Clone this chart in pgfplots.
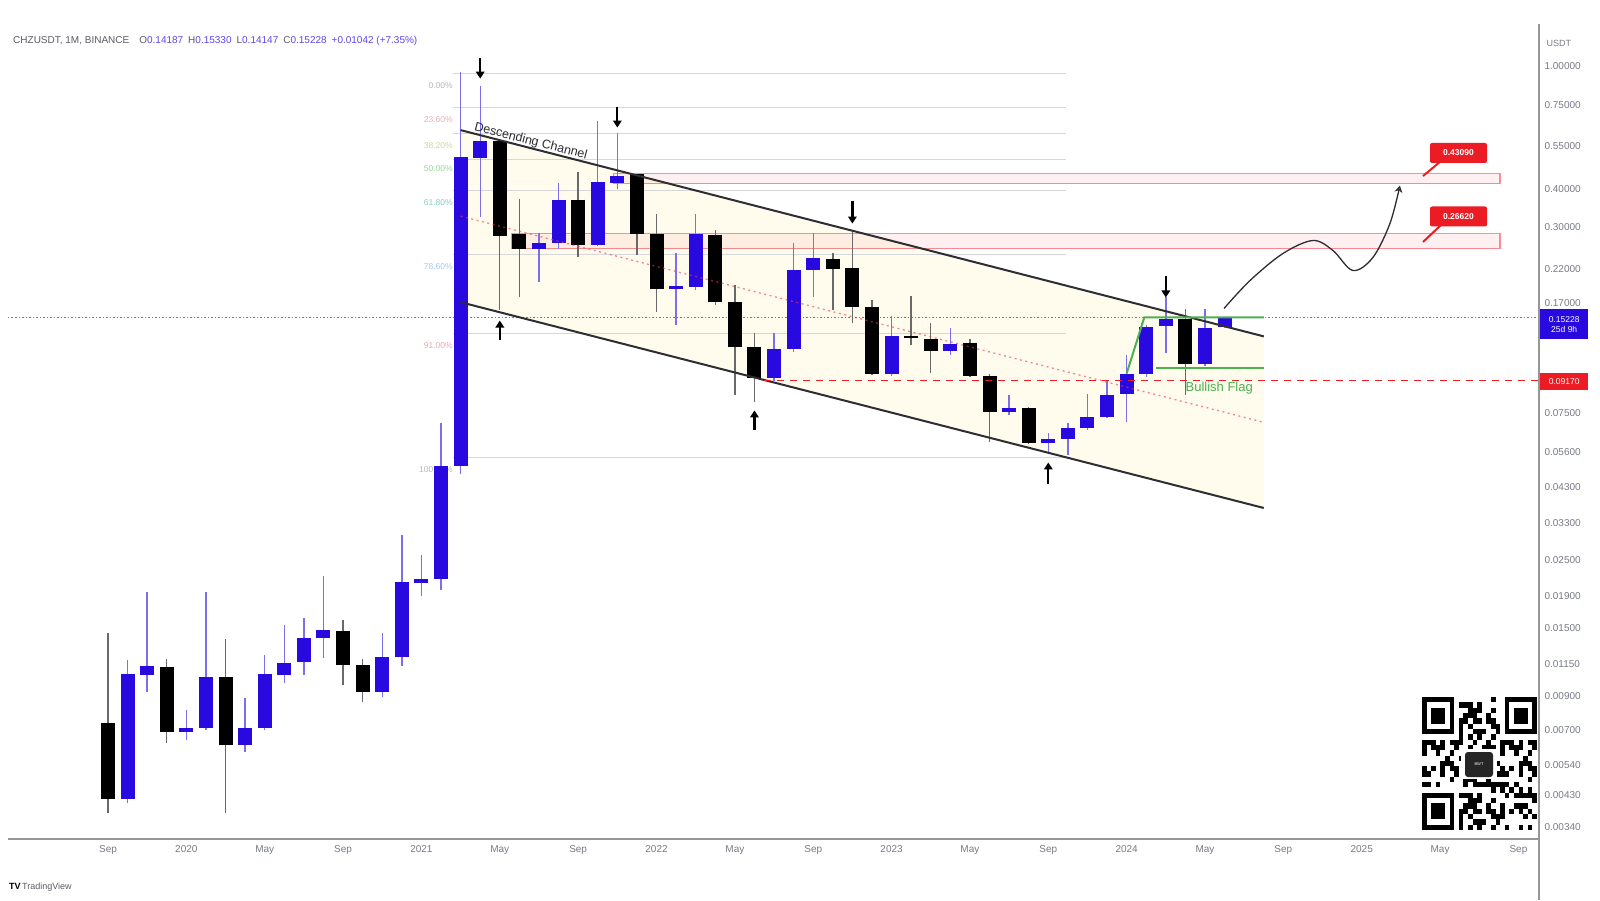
\documentclass[border=0pt]{standalone}
\usepackage{fontspec}
\setmainfont{Liberation Sans}
\usepackage{pgfplots}
\usepackage{pgfplotstable}
\pgfplotsset{compat=1.18}
\usetikzlibrary{arrows.meta}

\definecolor{cblue}{RGB}{40,10,225}
\definecolor{wickblue}{RGB}{125,110,235}
\definecolor{wickblack}{RGB}{105,105,105}
\definecolor{tickgray}{RGB}{120,123,134}
\definecolor{hdrgray}{RGB}{90,92,100}
\definecolor{axgray}{RGB}{150,150,150}
\definecolor{chanfill}{RGB}{255,252,238}
\definecolor{zonered}{RGB}{242,54,69}
\definecolor{lblred}{RGB}{236,28,36}
\definecolor{flaggreen}{RGB}{76,175,80}
\definecolor{chanline}{RGB}{45,45,50}
\definecolor{fibline}{RGB}{215,215,218}
\definecolor{fibA}{RGB}{160,160,165}
\definecolor{fibB}{RGB}{225,150,150}
\definecolor{fibC}{RGB}{195,200,120}
\definecolor{fibD}{RGB}{120,200,125}
\definecolor{fibE}{RGB}{95,190,170}
\definecolor{fibF}{RGB}{140,180,225}
\definecolor{fibG}{RGB}{230,140,150}

\tikzset{
  wickup/.style={draw=wickblue, line width=1.4pt},
  wickdn/.style={draw=wickblack, line width=1.4pt},
  bodyup/.style={draw=cblue, line width=14pt, line cap=butt},
  bodydn/.style={draw=black, line width=14pt, line cap=butt},
  fibl/.style={draw=fibline, line width=0.9pt},
  fiblab/.style={anchor=east, font=\fontsize{8.5}{10}\selectfont, inner sep=1pt, opacity=0.75},
  arr/.style={draw=black, line width=2.3pt, -{Triangle[width=8.5pt,length=7pt]}},
}

% monthly candles, row index 0 = Sep 2019 ... 57 = Jun 2024
\pgfplotstableread{
o h l c
0.00738 0.01446 0.00376 0.00418
0.00418 0.01183 0.00405 0.01065
0.01057 0.01967 0.00931 0.01131
0.01123 0.01191 0.00636 0.00690
0.00690 0.00814 0.00650 0.00711
0.00711 0.01967 0.00700 0.01041
0.01041 0.01384 0.00376 0.00626
0.00626 0.00890 0.00594 0.00711
0.00711 0.01228 0.00700 0.01065
0.01057 0.01536 0.00995 0.01157
0.01166 0.01618 0.01057 0.01394
0.01394 0.02217 0.01200 0.01480
0.01469 0.01594 0.00980 0.01139
0.01139 0.01191 0.00864 0.00931
0.00931 0.01446 0.00897 0.01209
0.01209 0.03012 0.01131 0.02120
0.02100 0.02580 0.01900 0.02160
0.02160 0.06930 0.02000 0.05040
0.05040 0.95400 0.04750 0.50900
0.50500 0.85900 0.32500 0.57300
0.57300 0.58000 0.16200 0.28160
0.28570 0.37160 0.17860 0.25540
0.25440 0.28800 0.19980 0.26730
0.26730 0.41900 0.25540 0.36900
0.36900 0.45500 0.24100 0.26340
0.26340 0.66200 0.26000 0.42200
0.41900 0.60900 0.39800 0.44100
0.44500 0.44800 0.24440 0.28570
0.28570 0.33000 0.15960 0.18940
0.18940 0.24800 0.14490 0.19380
0.19250 0.33200 0.18800 0.28570
0.28400 0.29400 0.16800 0.17100
0.17100 0.19530 0.08580 0.12290
0.12290 0.13640 0.08140 0.09750
0.09750 0.13640 0.09500 0.12100
0.12100 0.26700 0.11800 0.21850
0.21850 0.28800 0.17860 0.23900
0.23740 0.24800 0.16200 0.22020
0.22200 0.29400 0.14700 0.16580
0.16580 0.17450 0.09950 0.10040
0.10040 0.15500 0.09900 0.13340
0.13340 0.18000 0.12470 0.13140
0.13040 0.14700 0.10120 0.11930
0.11930 0.14170 0.11580 0.12570
0.12660 0.13040 0.09800 0.09900
0.09900 0.10000 0.06040 0.07560
0.07560 0.08580 0.07390 0.07780
0.07780 0.07800 0.05950 0.05990
0.05990 0.06460 0.05600 0.06170
0.06170 0.06960 0.05480 0.06710
0.06710 0.08650 0.06600 0.07280
0.07280 0.09600 0.07200 0.08580
0.08650 0.11580 0.07020 0.10040
0.10000 0.14500 0.09800 0.14270
0.14370 0.17850 0.11750 0.15140
0.15140 0.16300 0.08580 0.10820
0.10820 0.16300 0.10600 0.14160
0.14187 0.15330 0.14147 0.15228
}\ohlc

\begin{document}
\begin{tikzpicture}[x=1pt,y=1pt]
\useasboundingbox (0,0) rectangle (1600,900);
\fill[white] (0,0) rectangle (1600,900);
\begin{axis}[
  at={(8pt,61pt)}, anchor=south west, scale only axis,
  width=1531pt, height=811pt,
  xmin=-5.105, xmax=73.05,
  ymode=log, ymin=0.0031, ymax=1.33,
  axis x line*=bottom, axis y line*=right,
  axis line style={draw=none},
  xtick={0,4,...,72},
  xticklabels={Sep,2020,May,Sep,2021,May,Sep,2022,May,Sep,2023,May,Sep,2024,May,Sep,2025,May,Sep},
  ytick={0.0034,0.0043,0.0054,0.007,0.009,0.0115,0.015,0.019,0.025,0.033,0.043,0.056,0.075,0.17,0.22,0.3,0.4,0.55,0.75,1.0},
  yticklabels={0.00340,0.00430,0.00540,0.00700,0.00900,0.01150,0.01500,0.01900,0.02500,0.03300,0.04300,0.05600,0.07500,0.17000,0.22000,0.30000,0.40000,0.55000,0.75000,1.00000},
  major tick length=0pt, minor tick length=0pt, yminorticks=false,
  ticklabel style={font=\fontsize{10}{12}\selectfont, text=tickgray},
  xticklabel style={yshift=-3pt},
  yticklabel style={xshift=2pt},
]
% channel fill
\addplot[fill=chanfill, draw=none] coordinates {(18,0.620) (59,0.1327) (59,0.0368) (18,0.1713)} -- cycle;
% resistance zones
\addplot[fill=zonered, fill opacity=0.07, draw=zonered, draw opacity=0.55, line width=1.1pt]
  coordinates {(25.8,0.4158) (71.06,0.4158) (71.06,0.448) (25.8,0.448)} -- cycle;
\addplot[fill=zonered, fill opacity=0.07, draw=zonered, draw opacity=0.55, line width=1.1pt]
  coordinates {(20.6,0.2559) (71.06,0.2559) (71.06,0.2862) (20.6,0.2862)} -- cycle;
% fibonacci retracement levels
\addplot[fibl] coordinates {(17.6,0.945) (48.9,0.945)};
\addplot[fibl] coordinates {(17.6,0.7345) (48.9,0.7345)};
\addplot[fibl] coordinates {(17.6,0.6043) (48.9,0.6043)};
\addplot[fibl] coordinates {(17.6,0.499) (48.9,0.499)};
\addplot[fibl] coordinates {(17.6,0.3937) (48.9,0.3937)};
\addplot[fibl] coordinates {(17.6,0.2439) (48.9,0.2439)};
\addplot[fibl] coordinates {(17.6,0.1356) (48.9,0.1356)};
\addplot[fibl] coordinates {(17.6,0.0537) (48.9,0.0537)};
\node[fiblab, text=fibA] at (axis cs:17.66,0.864) {0.00\%};
\node[fiblab, text=fibB] at (axis cs:17.66,0.671) {23.60\%};
\node[fiblab, text=fibC] at (axis cs:17.66,0.552) {38.20\%};
\node[fiblab, text=fibD] at (axis cs:17.66,0.465) {50.00\%};
\node[fiblab, text=fibE] at (axis cs:17.66,0.360) {61.80\%};
\node[fiblab, text=fibF] at (axis cs:17.66,0.223) {78.60\%};
\node[fiblab, text=fibG] at (axis cs:17.66,0.124) {91.00\%};
\node[fiblab, text=fibA] at (axis cs:17.66,0.049) {100.00\%};
% last price line
\addplot[draw=tickgray, line width=1pt, dash pattern=on 1.5pt off 2pt] coordinates {(-5.105,0.15228) (73.05,0.15228)};
% candles
\pgfplotsinvokeforeach{0,...,57}{%
  \pgfplotstablegetelem{#1}{o}\of\ohlc \edef\cO{\pgfplotsretval}%
  \pgfplotstablegetelem{#1}{h}\of\ohlc \edef\cH{\pgfplotsretval}%
  \pgfplotstablegetelem{#1}{l}\of\ohlc \edef\cL{\pgfplotsretval}%
  \pgfplotstablegetelem{#1}{c}\of\ohlc \edef\cC{\pgfplotsretval}%
  \ifdim\cC pt<\cO pt \def\cK{dn}\else\def\cK{up}\fi
  \edef\doit{\noexpand\addplot[wick\cK] coordinates {(#1,\cL) (#1,\cH)};%
    \noexpand\addplot[body\cK] coordinates {(#1,\cO) (#1,\cC)};}%
  \doit
}
% channel lines
\addplot[draw=chanline, line width=2pt] coordinates {(18,0.620) (59,0.1327)};
\addplot[draw=chanline, line width=2pt] coordinates {(18,0.1713) (59,0.0368)};
\addplot[draw=zonered, draw opacity=0.6, line width=1.3pt, dash pattern=on 2pt off 3.5pt] coordinates {(18,0.326) (59,0.0698)};
% support line
\addplot[draw=lblred, line width=1.6pt, dash pattern=on 7pt off 6pt] coordinates {(33.5,0.0955) (73.05,0.0955)};
% bullish flag
\addplot[draw=flaggreen, line width=2pt] coordinates {(52.0,0.1006) (52.9,0.1529) (59,0.1529)};
\addplot[draw=flaggreen, line width=2pt] coordinates {(53.5,0.1049) (59,0.1049)};
\node[anchor=west, text=flaggreen, font=\fontsize{13}{14}\selectfont, inner sep=1pt] at (axis cs:54.95,0.090) {Bullish Flag};
% projection
\addplot[smooth, tension=0.55, draw=chanline, line width=1.3pt, -{Stealth[length=7pt,width=8pt,open]}]
  coordinates {(56.97,0.1635) (58.3,0.2015) (59.98,0.2466) (61.51,0.2717) (62.53,0.2521) (63.55,0.2171) (64.57,0.2393) (65.44,0.3085) (65.95,0.4098)};
% touch arrows
\draw[arr] (axis cs:19,1.065) -- (axis cs:19,0.911);
\draw[arr] (axis cs:26,0.739) -- (axis cs:26,0.632);
\draw[arr] (axis cs:38,0.366) -- (axis cs:38,0.3084);
\draw[arr] (axis cs:54,0.209) -- (axis cs:54,0.1775);
\draw[arr] (axis cs:20,0.1287) -- (axis cs:20,0.1494);
\draw[arr] (axis cs:33,0.0657) -- (axis cs:33,0.0763);
\draw[arr] (axis cs:48,0.0439) -- (axis cs:48,0.0517);
% channel label
\node[rotate=-14.4, anchor=south, text=chanline, font=\fontsize{12.5}{14}\selectfont, inner sep=0.5pt] at (axis cs:21.5,0.5430) {Descending Channel};
\end{axis}

% QR code (decoration)
\fill[white] (1418,66) rectangle (1538,207);
\foreach \i in {0,...,24}{\foreach \j in {0,...,24}{%
  \pgfmathtruncatemacro\v{mod(\i*\i*3+\j*\j*5+\i*\j*7+\i*5+\j*3,17)}%
  \ifnum\v<8 \fill[black] (1422+4.6*\i,203-5.32*\j) rectangle ++(4.6,-5.32);\fi
}}
\foreach \fx/\fy in {0/0,18/0,0/18}{%
  \fill[white] (1422+4.6*\fx-4.6,203-5.32*\fy+5.32) rectangle ++(41.4,-47.88);
  \fill[black] (1422+4.6*\fx,203-5.32*\fy) rectangle ++(32.2,-37.24);
  \fill[white] (1422+4.6*\fx+4.6,203-5.32*\fy-5.32) rectangle ++(23,-26.6);
  \fill[black] (1422+4.6*\fx+9.2,203-5.32*\fy-10.64) rectangle ++(13.8,-15.96);
}
\fill[white] (1461,121) rectangle (1497,151);
\fill[black!85, rounded corners=3pt] (1465,123) rectangle (1493,148);
\node[text=white, font=\fontsize{4}{5}\selectfont] at (1479,135.5) {BWT};

% axis frame lines
\draw[axgray, line width=1.2pt] (8,61) -- (1539,61);
\draw[axgray, line width=1.2pt] (1539,0) -- (1539,876);

% right side labels
\node[fill=cblue, text=white, anchor=north west, minimum width=48pt, minimum height=30pt, inner sep=1pt, align=center, font=\fontsize{8.5}{10}\selectfont] at (1540,591) {0.15228\\25d 9h};
\node[fill=lblred, text=white, anchor=west, minimum width=48pt, minimum height=17pt, inner sep=1pt, font=\fontsize{8.5}{10}\selectfont] at (1540,518.5) {0.09170};
\node[anchor=west, text=tickgray, font=\fontsize{9}{10}\selectfont] at (1543,857) {USDT};

% callouts
\draw[lblred, line width=2pt] (1441,739) -- (1423,724);
\node[fill=lblred, text=white, rounded corners=2pt, minimum width=57pt, minimum height=20pt, inner sep=1pt, font=\bfseries\fontsize{8.5}{10}\selectfont] at (1458.5,747) {0.43090};
\draw[lblred, line width=2pt] (1441,675) -- (1423,658);
\node[fill=lblred, text=white, rounded corners=2pt, minimum width=57pt, minimum height=20pt, inner sep=1pt, font=\bfseries\fontsize{8.5}{10}\selectfont] at (1458.5,683.5) {0.26620};

% header
\node[anchor=west, inner sep=0pt, font=\fontsize{10}{11}\selectfont] at (13,859)
 {\color{hdrgray}CHZUSDT, 1M, BINANCE\quad O\textcolor{cblue!75}{0.14187}\enspace H\textcolor{cblue!75}{0.15330}\enspace L\textcolor{cblue!75}{0.14147}\enspace C\textcolor{cblue!75}{0.15228}\enspace \textcolor{cblue!75}{+0.01042 (+7.35\%)}};
% logo
\node[anchor=west, inner sep=0pt, font=\fontsize{9}{10}\selectfont] at (9,13) {\textbf{TV}\,\textcolor{hdrgray}{TradingView}};
\end{tikzpicture}
\end{document}
